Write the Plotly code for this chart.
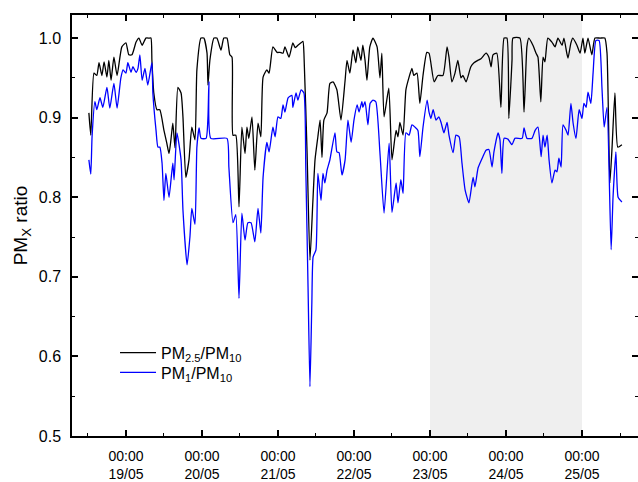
import pandas as pd
import plotly.graph_objects as go

start = pd.Timestamp("2013-05-18 12:00")

# hours since start, PM2.5/PM10
pm25_hours = [0.3, 0.9, 1.9, 2.8, 3.5, 4.4, 5.1, 6.0, 6.6, 7.3, 8.2, 9.2, 10.7, 12.0, 12.9, 13.9, 15.2, 16.1, 17.1, 18.3,
              19.3, 19.9, 20.2, 20.8, 21.8, 22.7, 24.0, 24.9, 25.6, 26.2, 26.8, 27.5, 28.4, 29.4, 30.0, 30.9, 31.9, 32.8,
              33.8, 34.4, 35.7, 36.6, 37.6, 37.9, 38.5, 39.8, 40.7, 42.0, 42.9, 43.9, 44.8, 45.5, 45.8, 46.7, 47.7, 48.6,
              49.6, 50.2, 50.8, 51.8, 52.7, 53.7, 54.6, 55.3, 56.5, 57.2, 58.4, 59.7, 60.6, 61.6, 62.2, 63.5, 64.7, 65.4,
              66.3, 67.3, 67.9, 68.2, 69.2, 70.1, 71.0, 71.7, 72.6, 73.3, 73.9, 74.5, 75.5, 76.4, 77.4, 78.6, 79.9, 81.2,
              81.8, 82.7, 83.7, 84.6, 85.2, 86.2, 86.8, 87.5, 88.1, 89.0, 90.0, 91.3, 92.2, 92.8, 93.5, 95.0, 96.0, 97.3,
              97.9, 98.5, 99.5, 100.4, 101.4, 102.3, 102.9, 103.9, 104.8, 105.8, 107.0, 107.7, 109.3, 110.5, 112.1, 113.4,
              114.0, 114.9, 115.9, 116.8, 117.8, 118.4, 119.4, 120.9, 121.9, 123.1, 124.1, 125.7, 126.6, 127.3, 127.9,
              129.1, 130.4, 131.4, 132.3, 132.9, 133.9, 134.2, 136.4, 137.7, 138.6, 139.2, 140.5, 141.5, 142.1, 143.0,
              143.7, 144.3, 145.2, 146.5, 147.5, 148.4, 149.7, 150.3, 151.2, 151.6, 152.5, 153.1, 154.4, 155.4, 156.3,
              156.9, 157.9, 159.1, 160.1, 161.7, 163.2, 163.9, 164.8, 165.5, 166.4, 167.3, 168.6]
pm25_ratio = [0.906, 0.878, 0.956, 0.953, 0.969, 0.953, 0.970, 0.951, 0.972, 0.947, 0.976, 0.953, 0.989, 0.994, 0.979,
              0.979, 0.995, 1.0, 0.991, 1.0, 1.0, 1.0, 0.972, 0.931, 0.910, 0.910, 0.884, 0.868, 0.855, 0.872, 0.893,
              0.862, 0.938, 0.931, 0.901, 0.825, 0.847, 0.888, 0.872, 0.960, 1.0, 1.0, 0.981, 0.941, 0.972, 1.0, 1.0,
              0.985, 1.0, 1.0, 0.979, 0.976, 0.878, 0.878, 0.788, 0.888, 0.855, 0.888, 0.874, 0.901, 0.834, 0.893, 0.876,
              0.951, 0.960, 0.956, 0.989, 0.982, 0.982, 0.981, 0.989, 0.976, 0.994, 0.988, 0.991, 0.994, 0.996, 0.981,
              0.855, 0.721, 0.793, 0.847, 0.876, 0.897, 0.850, 0.897, 0.906, 0.943, 0.945, 0.935, 0.897, 0.947, 0.972,
              0.956, 0.985, 0.969, 0.989, 0.972, 0.991, 0.972, 0.947, 0.989, 1.0, 0.989, 0.950, 0.981, 0.901, 0.937,
              0.847, 0.884, 0.876, 0.894, 0.878, 0.935, 0.951, 0.962, 0.953, 0.956, 0.918, 0.953, 0.982, 0.981, 0.945,
              0.953, 0.953, 0.989, 0.976, 0.945, 0.956, 0.972, 0.950, 0.953, 0.945, 0.964, 0.969, 0.972, 0.974, 0.981,
              0.976, 0.964, 0.979, 0.981, 0.913, 1.0, 1.0, 0.899, 0.972, 1.0, 1.0, 0.907, 0.989, 1.0, 0.991, 0.981,
              0.976, 0.920, 0.976, 0.970, 1.0, 0.995, 0.989, 1.0, 0.991, 1.0, 0.981, 0.975, 0.994, 1.0, 0.991, 0.981,
              1.0, 0.981, 1.0, 0.979, 1.0, 1.0, 1.0, 0.981, 0.818, 0.863, 0.931, 0.863, 0.866]

# hours since start, PM1/PM10
pm1_hours = [0.3, 0.9, 1.3, 2.2, 2.8, 3.8, 4.7, 6.0, 6.9, 8.2, 9.2, 10.4, 11.1, 12.0, 12.6, 13.6, 14.2, 15.2, 15.8, 16.4,
             17.1, 18.0, 18.9, 20.2, 20.5, 21.5, 22.1, 22.7, 23.4, 24.0, 24.6, 25.6, 26.8, 27.2, 28.1, 29.4, 30.0, 31.3,
             32.2, 32.8, 33.8, 34.4, 35.1, 35.7, 37.3, 37.9, 38.2, 38.8, 43.9, 44.5, 45.8, 46.7, 47.7, 48.6, 49.6, 50.5,
             51.5, 52.7, 53.7, 54.6, 55.3, 56.5, 57.2, 58.4, 59.1, 60.0, 60.9, 61.6, 62.2, 63.2, 64.4, 64.7, 65.7, 66.3,
             67.3, 68.2, 68.8, 69.5, 70.1, 70.7, 71.1, 72.0, 72.6, 73.6, 74.2, 74.8, 75.5, 76.4, 78.0, 78.6, 79.3, 80.2,
             81.2, 82.1, 83.1, 84.0, 85.0, 85.6, 86.5, 86.8, 87.5, 88.4, 89.1, 90.0, 90.9, 92.2, 93.5, 95.1, 96.0, 97.3,
             97.9, 98.8, 99.5, 100.4, 101.4, 102.3, 103.3, 104.2, 104.8, 105.8, 107.1, 107.7, 108.3, 109.0, 109.9, 110.8,
             111.5, 112.4, 113.4, 114.0, 115.3, 116.2, 117.2, 118.1, 119.1, 120.3, 121.6, 122.2, 123.2, 124.7, 125.7,
             126.6, 127.6, 128.2, 129.5, 130.1, 130.7, 131.4, 132.6, 133.9, 134.8, 137.1, 137.7, 138.6, 140.2, 141.2,
             142.1, 143.1, 143.7, 144.3, 145.0, 145.6, 146.5, 147.5, 148.1, 148.7, 149.4, 150.0, 151.0, 151.6, 152.5,
             153.2, 154.1, 155.1, 156.0, 156.6, 157.3, 157.9, 158.8, 159.5, 160.4, 161.4, 162.3, 163.0, 163.9, 165.2,
             165.8, 166.7, 167.4, 168.6]
pm1_ratio = [0.847, 0.829, 0.876, 0.920, 0.910, 0.925, 0.913, 0.938, 0.912, 0.943, 0.912, 0.950, 0.960, 0.956, 0.969,
             0.957, 0.964, 0.957, 0.962, 0.979, 0.947, 0.962, 0.941, 0.969, 0.931, 0.884, 0.863, 0.863, 0.843, 0.796,
             0.830, 0.800, 0.843, 0.822, 0.881, 0.847, 0.784, 0.715, 0.750, 0.786, 0.766, 0.863, 0.887, 0.874, 0.874,
             0.901, 0.945, 0.874, 0.874, 0.838, 0.768, 0.778, 0.673, 0.780, 0.746, 0.768, 0.768, 0.744, 0.786, 0.755,
             0.825, 0.869, 0.857, 0.888, 0.876, 0.901, 0.899, 0.916, 0.907, 0.925, 0.928, 0.913, 0.931, 0.922, 0.935,
             0.931, 0.834, 0.687, 0.562, 0.667, 0.725, 0.734, 0.830, 0.796, 0.830, 0.818, 0.834, 0.847, 0.881, 0.857,
             0.856, 0.828, 0.847, 0.897, 0.869, 0.897, 0.916, 0.907, 0.920, 0.913, 0.920, 0.891, 0.918, 0.922, 0.920,
             0.856, 0.780, 0.868, 0.781, 0.818, 0.793, 0.822, 0.805, 0.881, 0.878, 0.891, 0.888, 0.884, 0.851, 0.888,
             0.922, 0.907, 0.899, 0.910, 0.897, 0.901, 0.894, 0.881, 0.894, 0.878, 0.856, 0.878, 0.876, 0.843, 0.809,
             0.793, 0.825, 0.813, 0.837, 0.851, 0.859, 0.860, 0.838, 0.857, 0.881, 0.872, 0.830, 0.874, 0.873, 0.866,
             0.874, 0.874, 0.887, 0.874, 0.874, 0.884, 0.888, 0.851, 0.878, 0.863, 0.878, 0.847, 0.818, 0.834, 0.832,
             0.849, 0.838, 0.891, 0.884, 0.878, 0.918, 0.893, 0.874, 0.910, 0.899, 0.918, 0.913, 0.932, 0.918, 0.956,
             0.997, 0.997, 0.938, 0.888, 0.913, 0.734, 0.800, 0.857, 0.800, 0.794]

shade_start = "2013-05-23 00:00"
shade_end = "2013-05-25 00:00"

t25 = start + pd.to_timedelta(pm25_hours, unit="h")
t1 = start + pd.to_timedelta(pm1_hours, unit="h")

FONT = "Arial, 'Liberation Sans', sans-serif"

fig = go.Figure()
fig.add_trace(go.Scatter(x=t25, y=pm25_ratio, mode="lines", name="PM<sub>2.5</sub>/PM<sub>10</sub>",
                         legend="legend",
                         line=dict(color="#000000", width=1.3, shape="spline", smoothing=0.5)))
fig.add_trace(go.Scatter(x=t1, y=pm1_ratio, mode="lines", name="PM<sub>1</sub>/PM<sub>10</sub>",
                         legend="legend2",
                         line=dict(color="#0000ff", width=1.3, shape="spline", smoothing=0.5)))

fig.add_shape(type="rect", xref="x", yref="paper", x0=shade_start, x1=shade_end, y0=0, y1=1,
              fillcolor="#efefef", line=dict(width=0), layer="below")

legend_common = dict(xanchor="left", yanchor="middle", bgcolor="rgba(0,0,0,0)",
                     font=dict(size=16), itemwidth=36)
fig.update_layout(
    width=638, height=482,
    margin=dict(l=72, r=0, t=15, b=46),
    paper_bgcolor="white", plot_bgcolor="white",
    font=dict(family=FONT, size=15, color="#000000"),
    showlegend=True,
    legend=dict(x=0.076, y=0.198, **legend_common),
    legend2=dict(x=0.076, y=0.151, **legend_common),
)
fig.update_xaxes(
    type="date", range=["2013-05-18 06:58", "2013-05-25 17:41"],
    tick0="2013-05-19 00:00", dtick=86400000, tickformat="%H:%M<br>%d/%m",
    ticks="inside", ticklen=6, tickwidth=1.5, tickcolor="#000000",
    showline=True, linewidth=1.5, linecolor="#000000", mirror="ticks",
    showgrid=False, zeroline=False, ticklabelstandoff=6, automargin=False,
    minor=dict(ticks="inside", ticklen=3, tickwidth=1.2, dtick=43200000, tick0="2013-05-19 12:00",
               showgrid=False, tickcolor="#000000"),
    tickfont=dict(size=14),
)
fig.update_yaxes(
    range=[0.5, 1.029], tick0=0.5, dtick=0.1, tickformat=".1f",
    ticks="inside", ticklen=6, tickwidth=1.5, tickcolor="#000000",
    showline=True, linewidth=1.5, linecolor="#000000", mirror="ticks",
    showgrid=False, zeroline=False, ticklabelstandoff=6, automargin=False,
    minor=dict(ticks="inside", ticklen=3, tickwidth=1.2, dtick=0.05, showgrid=False, tickcolor="#000000"),
    tickfont=dict(size=16),
    title=dict(text="PM<sub>X</sub> ratio", font=dict(size=19), standoff=6),
)

fig.write_html("out.html")
